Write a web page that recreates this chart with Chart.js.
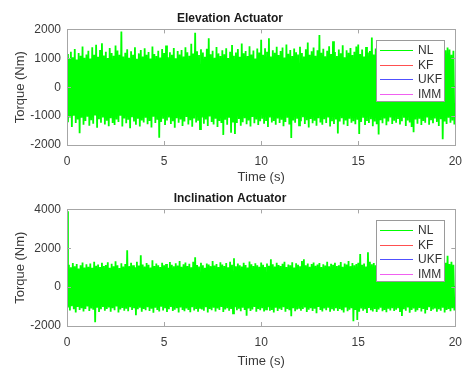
<!DOCTYPE html>
<html>
<head>
<meta charset="utf-8">
<script src="https://cdn.jsdelivr.net/npm/chart.js@4.4.0/dist/chart.umd.min.js"></script>
<style>
  body { margin: 0; background: #fff; }
  #wrap { position: relative; width: 471px; height: 369px; }
  canvas { position: absolute; left: 0; }
</style>
</head>
<body>
<div id="wrap">
  <canvas id="elev" width="471" height="185" style="top:0"></canvas>
  <canvas id="incl" width="471" height="189" style="top:180px"></canvas>
</div>
<script>
var elevHigh = [
  1150,980,1230,1040,1320,960,1180,1090,1410,1020,
  1130,1260,990,1380,1120,1470,1050,1290,1520,1100,
  1230,1010,1360,1180,1090,1440,1270,1120,1930,1060,
  1190,1310,1020,1240,1120,1380,980,1170,1290,1060,
  1350,1120,1220,990,1410,1150,1080,1260,1030,1320,
  1180,1440,1040,1210,1120,1360,1000,1250,1130,1290,
  1060,1380,1210,1090,1500,1170,1880,1240,1110,1310,
  1200,1050,1330,1690,1140,1260,1020,1390,1170,1080,
  1280,1140,1350,1010,1230,1460,1090,1200,1320,1050,
  1510,1170,1250,1080,1420,1130,1270,990,1340,1200,
  1640,1120,1350,1230,1690,1060,1280,1190,1400,1110,
  1250,1370,1030,1480,1160,1290,1080,1340,1210,1130,
  1400,1180,1060,1310,1550,1120,1240,1370,1090,1280,
  1810,1190,1330,1070,1260,1420,1150,1590,1220,1080,
  1300,1170,1450,1040,1280,1190,1360,1110,1230,1410,
  1480,1150,1300,1060,1390,1200,1250,1720,1130,1340,
  1210,1080,1360,1170,1290,1050,1420,1230,1110,1310,
  1180,1400,1040,1270,1150,1330,1090,1460,1220,1130,
  1350,1060,1240,1180,1420,1100,1290,1010,1370,1160,
  1250,1080,1330,1190,1040,1280,1370,1300,1120,1260
];
var elevLow = [
  -1210,-1050,-1380,-990,-1240,-1120,-1590,-1060,-1300,-1170,
  -1020,-1330,-1140,-1260,-980,-1400,-1110,-1230,-1050,-1290,
  -1160,-1350,-1070,-1240,-1310,-1120,-1200,-990,-1360,-1080,
  -1250,-1130,-1420,-1040,-1190,-1300,-1090,-1360,-1150,-1220,
  -1060,-1280,-1170,-1390,-1020,-1240,-1130,-1750,-1200,-1090,
  -1310,-1150,-1050,-1270,-1180,-1400,-1070,-1230,-1120,-1340,
  -1190,-1030,-1290,-1140,-1370,-1080,-1220,-1160,-1450,-1050,
  -1260,-1120,-1340,-1010,-1200,-1290,-1090,-1380,-1170,-1240,
  -1650,-1130,-1300,-1060,-1580,-1190,-1620,-1240,-1100,-1330,
  -1210,-1070,-1280,-1150,-1360,-1030,-1250,-1120,-1310,-1180,
  -1090,-1260,-1140,-1380,-1050,-1220,-1170,-1300,-1080,-1240,
  -1130,-1350,-1200,-1060,-1290,-1760,-1150,-1230,-1090,-1320,
  -1180,-1040,-1270,-1140,-1390,-1100,-1250,-1160,-1330,-1070,
  -1220,-1300,-1110,-1240,-1050,-1360,-1180,-1270,-1120,-1600,
  -1190,-1070,-1290,-1150,-1340,-1090,-1230,-1180,-1280,-1130,
  -1620,-1200,-1060,-1310,-1170,-1240,-1110,-1350,-1190,-1280,
  -1640,-1140,-1250,-1080,-1320,-1190,-1050,-1270,-1160,-1230,
  -1100,-1290,-1180,-1060,-1340,-1150,-1220,-1380,-1560,-1120,
  -1260,-1090,-1310,-1170,-1230,-1050,-1300,-1140,-1250,-1080,
  -1200,-1340,-1110,-1800,-1190,-1270,-1060,-1230,-1150,-1290
];
var inclHigh = [
  3900,1150,1020,1240,1080,1190,960,1130,1270,1010,
  1180,1050,1220,990,1310,1100,1160,1030,1250,1090,
  1140,1280,1000,1200,1070,1330,1120,980,1230,1060,
  1190,1900,1080,1250,1130,1020,1300,1110,1640,1170,
  1060,1240,1150,1010,1380,1090,1210,1130,1040,1260,
  1120,1190,1000,1290,1150,1070,1230,1110,1340,1050,
  1180,1270,1090,1200,1020,1310,1540,1140,1060,1250,
  1130,1000,1220,1160,1080,1350,1110,1190,1040,1280,
  1170,1090,1240,1020,1300,1150,1480,1080,1210,1130,
  1060,1260,1140,1010,1320,1180,1090,1230,1120,1050,
  1270,1150,1030,1210,1100,1440,1180,1060,1250,1140,
  1090,1200,1310,1040,1170,1120,1280,1010,1230,1150,
  1080,1350,1440,1130,1220,1050,1190,1270,1100,1160,
  1240,1030,1180,1110,1300,1070,1200,1150,1260,1090,
  1130,1290,1050,1210,1170,1340,1080,1240,1120,1190,
  1260,1700,1150,1220,1060,1800,1310,1180,1240,1130,
  1290,1160,1380,1070,1230,1340,1120,1270,1190,1410,
  1150,1300,1220,1080,1370,1240,1160,1290,1130,1330,
  1210,1090,1350,1260,1140,1280,1200,1420,1110,1250,
  1310,1170,1240,1380,1090,1260,1620,1190,1300,1150
];
var inclLow = [
  -1050,-1200,-980,-1140,-1310,-1020,-1180,-1090,-1250,-1120,
  -1000,-1230,-1100,-1160,-1800,-1060,-1280,-1140,-1020,-1210,
  -1130,-1050,-1260,-1090,-1190,-1000,-1300,-1150,-1070,-1220,
  -1110,-1240,-1030,-1180,-1090,-1450,-1140,-1060,-1270,-1120,
  -1190,-1040,-1230,-1110,-1320,-1060,-1170,-1250,-1010,-1200,
  -1080,-1280,-1140,-1020,-1230,-1160,-1090,-1310,-1050,-1180,
  -1240,-1100,-1170,-1290,-1030,-1200,-1120,-1260,-1070,-1150,
  -1210,-1040,-1300,-1130,-1190,-1060,-1250,-1100,-1170,-1020,
  -1280,-1150,-1080,-1220,-1120,-1350,-1040,-1190,-1110,-1240,
  -1060,-1180,-1470,-1100,-1230,-1150,-1020,-1270,-1120,-1190,
  -1090,-1250,-1140,-1030,-1210,-1170,-1300,-1060,-1230,-1110,
  -1180,-1040,-1260,-1120,-1190,-1500,-1080,-1240,-1150,-1070,
  -1220,-1130,-1050,-1280,-1160,-1090,-1230,-1110,-1340,-1020,
  -1170,-1250,-1100,-1190,-1060,-1270,-1140,-1210,-1080,-1230,
  -1120,-1190,-1300,-1050,-1240,-1160,-1090,-1750,-1180,-1690,
  -1260,-1100,-1210,-1140,-1330,-1070,-1190,-1250,-1120,-1280,
  -1150,-1060,-1240,-1170,-1290,-1110,-1200,-1080,-1230,-1160,
  -1090,-1280,-1480,-1140,-1210,-1050,-1320,-1170,-1100,-1260,
  -1190,-1070,-1250,-1130,-1360,-1180,-1040,-1230,-1150,-1100,
  -1270,-1140,-1210,-1060,-1300,-1180,-1120,-1240,-1090,-1200
];

// filter estimates stay on zero
var estTimes = [0, 20];
var kfValues = [0, 0];
var ukfValues = [0, 0];
var immValues = [0, 0];

var seriesNames = ['NL', 'KF', 'UKF', 'IMM'];
var xTicks = [0, 5, 10, 15, 20];
var elevTicks = [-2000, -1000, 0, 1000, 2000];
var inclTicks = [-2000, 0, 2000, 4000];

Chart.defaults.font.family = "'Liberation Sans', Arial, sans-serif";
Chart.defaults.color = '#3a3a3a';

function swingPoints(high, low) {
  var pts = [];
  for (var i = 0; i < high.length; i++) {
    pts.push({ x: i * 0.1, y: high[i] });
    pts.push({ x: i * 0.1 + 0.05, y: low[i] });
  }
  return pts;
}

function estPoints(vals) {
  return estTimes.map(function(t, i) { return { x: t, y: vals[i] }; });
}

// matlab style box with inward ticks
var axesBox = {
  id: 'axesBox',
  afterDraw: function(chart) {
    var ctx = chart.ctx, a = chart.chartArea;
    var xs = chart.scales.x, ys = chart.scales.y;
    ctx.save();
    ctx.strokeStyle = '#a6a6a6';
    ctx.lineWidth = 1;
    ctx.strokeRect(Math.round(a.left) + 0.5, Math.round(a.top) + 0.5,
                   Math.round(a.right - a.left), Math.round(a.bottom - a.top));
    ctx.beginPath();
    xTicks.forEach(function(t) {
      var px = Math.round(xs.getPixelForValue(t)) + 0.5;
      ctx.moveTo(px, a.bottom); ctx.lineTo(px, a.bottom - 4);
      ctx.moveTo(px, a.top); ctx.lineTo(px, a.top + 4);
    });
    ys.ticks.forEach(function(t) {
      var py = Math.round(ys.getPixelForValue(t.value)) + 0.5;
      ctx.moveTo(a.left, py); ctx.lineTo(a.left + 4, py);
      ctx.moveTo(a.right, py); ctx.lineTo(a.right - 4, py);
    });
    ctx.stroke();
    ctx.restore();
  }
};

var boxLegend = {
  id: 'boxLegend',
  afterDatasetsDraw: function(chart) {
    var ctx = chart.ctx, a = chart.chartArea;
    var w = 68, h = 61;
    var x = Math.round(a.right) - 11 - w, y = Math.round(a.top) + 11;
    ctx.save();
    ctx.fillStyle = '#fff';
    ctx.fillRect(x, y, w, h);
    ctx.strokeStyle = '#9a9a9a';
    ctx.lineWidth = 1;
    ctx.strokeRect(x + 0.5, y + 0.5, w, h);
    ctx.font = "12px 'Liberation Sans', Arial, sans-serif";
    ctx.textBaseline = 'middle';
    chart.data.datasets.forEach(function(ds, i) {
      var ly = Math.round(y + 10 + i * 14.6) + 0.5;
      ctx.strokeStyle = ds.borderColor;
      ctx.beginPath();
      ctx.moveTo(x + 4, ly); ctx.lineTo(x + 37, ly);
      ctx.stroke();
      ctx.fillStyle = '#333';
      ctx.fillText(ds.label, x + 42, ly);
    });
    ctx.restore();
  }
};

function plainTick(v) { return String(v); }

function makeChart(id, title, high, low, ticks, yMin, yMax, xAxisHeight) {
  return new Chart(document.getElementById(id), {
    type: 'line',
    data: {
      datasets: [
        { label: seriesNames[0], data: swingPoints(high, low), borderColor: '#00ff00', borderWidth: 1.8 },
        { label: seriesNames[1], data: estPoints(kfValues), borderColor: '#ff5050', borderWidth: 1.6,
          segment: { borderColor: '#6e6e6e' } },
        { label: seriesNames[2], data: estPoints(ukfValues), borderColor: '#5050ff', borderWidth: 1.6,
          segment: { borderColor: '#6e6e6e' } },
        { label: seriesNames[3], data: estPoints(immValues), borderColor: '#f060f0', borderWidth: 1.6,
          segment: { borderColor: '#6e6e6e' } }
      ]
    },
    options: {
      responsive: false,
      animation: false,
      devicePixelRatio: 1,
      layout: { padding: { left: 0, right: 11, top: 0, bottom: 0 } },
      elements: { point: { radius: 0 }, line: { tension: 0 } },
      plugins: {
        legend: { display: false },
        tooltip: { enabled: false },
        title: {
          display: true,
          text: title,
          color: '#1a1a1a',
          font: { size: 12, weight: 'bold' },
          padding: { top: 11, bottom: 4 }
        }
      },
      scales: {
        x: {
          type: 'linear', min: 0, max: 20,
          afterBuildTicks: function(s) { s.ticks = xTicks.map(function(v) { return { value: v }; }); },
          afterFit: function(s) { s.height = xAxisHeight; },
          grid: { display: false, drawTicks: false },
          border: { display: false },
          ticks: { font: { size: 12 }, padding: 9, maxRotation: 0, callback: plainTick },
          title: { display: true, text: 'Time (s)', font: { size: 13 }, padding: { top: 0, bottom: 0 } }
        },
        y: {
          min: yMin, max: yMax,
          afterBuildTicks: function(s) { s.ticks = ticks.map(function(v) { return { value: v }; }); },
          afterFit: function(s) { s.width = 67; },
          grid: { display: false, drawTicks: false },
          border: { display: false },
          ticks: { font: { size: 12 }, padding: 6, callback: plainTick },
          title: { display: true, text: 'Torque (Nm)', font: { size: 13 }, padding: { top: 13, bottom: 0 } }
        }
      }
    },
    plugins: [axesBox, boxLegend]
  });
}

makeChart('elev', 'Elevation Actuator', elevHigh, elevLow, elevTicks, -2000, 2000, 40);
makeChart('incl', 'Inclination Actuator', inclHigh, inclLow, inclTicks, -2000, 4000, 43);
</script>
</body>
</html>
